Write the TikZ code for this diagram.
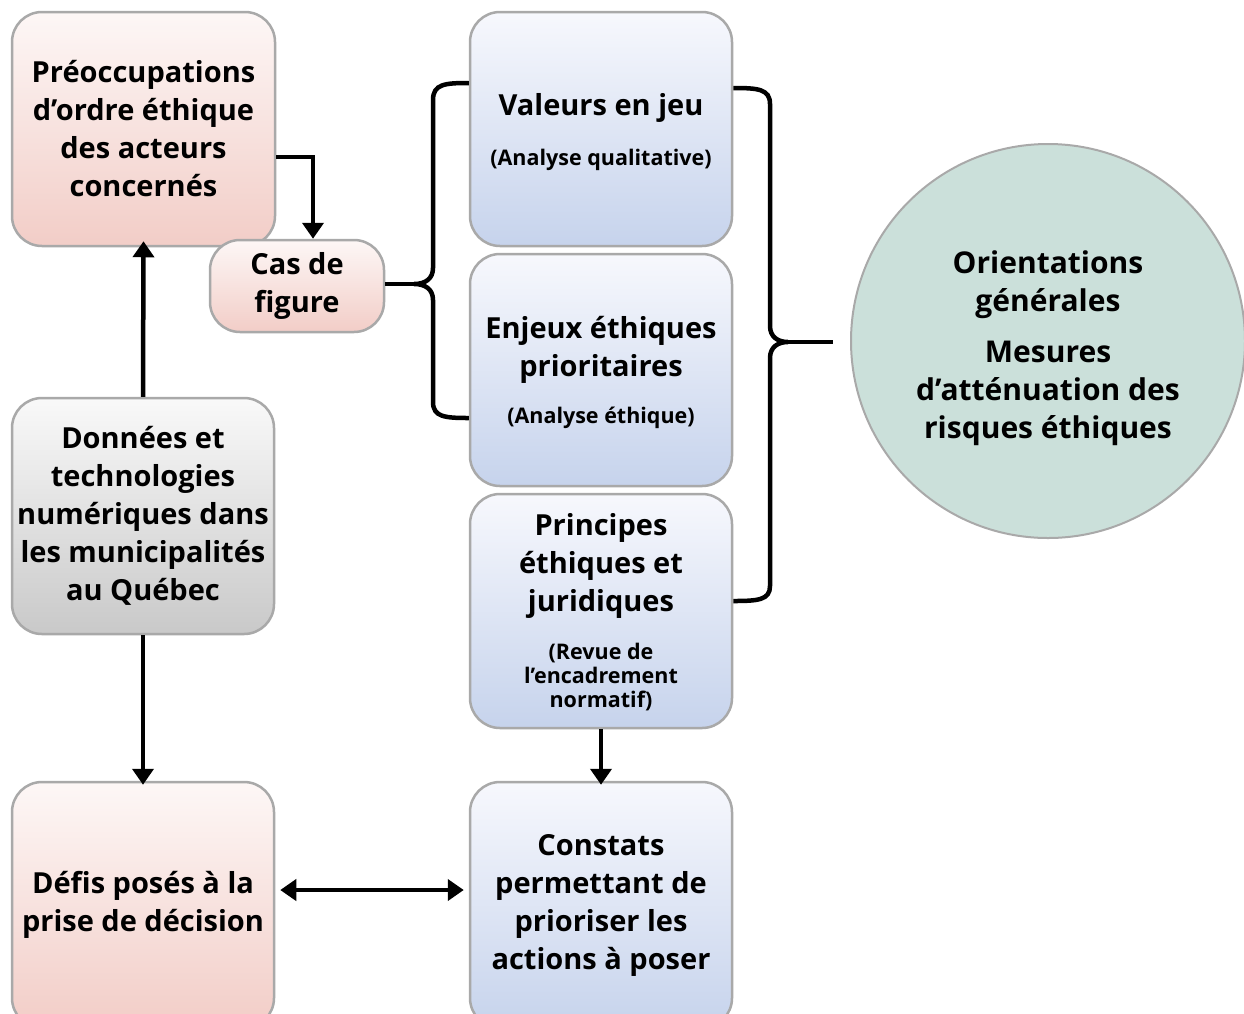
\documentclass[tikz,border=0pt]{standalone}
\usepackage{fontspec}
\setmainfont{Open Sans}
\usetikzlibrary{arrows.meta}
\definecolor{boxgray}{HTML}{A9A9A9}
\definecolor{pinkT}{HTML}{FDF7F6}
\definecolor{pinkB}{HTML}{F2CDC7}
\definecolor{blueT}{HTML}{F7F8FD}
\definecolor{blueB}{HTML}{C6D3EC}
\definecolor{grayT}{HTML}{F9F9F9}
\definecolor{grayB}{HTML}{C9C9C9}
\definecolor{circfill}{HTML}{CBE0DA}
\tikzset{
  box/.style={draw=boxgray, line width=2.5pt, rounded corners=30pt, align=center,
    font=\fontsize{29}{38}\selectfont\bfseries, inner sep=0pt},
  pinkbox/.style={box, top color=pinkT, bottom color=pinkB},
  bluebox/.style={box, top color=blueT, bottom color=blueB},
  graybox/.style={box, top color=grayT, bottom color=grayB},
  arr/.style={line width=4.5pt, -{Triangle[width=21pt,length=16pt]}},
  darr/.style={line width=4.5pt, {Triangle[width=21pt,length=16pt]}-{Triangle[width=21pt,length=16pt]}},
  bracestyle/.style={line width=4.5pt},
}
\newcommand{\smalltxt}[1]{{\fontsize{21.5}{24}\selectfont #1}}
\begin{document}
\begin{tikzpicture}[x=1pt,y=-1pt]
\fill[white] (0,0) rectangle (1244,1013);
\useasboundingbox (0,0) rectangle (1244,1013);

% boxes
\node[pinkbox, minimum width=263pt, minimum height=234pt] (pre) at (143.5,129) {Préoccupations\\d’ordre éthique\\des acteurs\\concernés};
\node[pinkbox, minimum width=174pt, minimum height=92pt] (cas) at (297,286) {Cas de\\figure};
\node[graybox, minimum width=262pt, minimum height=236pt] (don) at (143,516) {Données et\\technologies\\numériques dans\\les municipalités\\au Québec};
\node[pinkbox, minimum width=262pt, minimum height=246pt] (def) at (143,905) {Défis posés à la\\prise de décision};

\node[bluebox, minimum width=262pt, minimum height=234pt] (val) at (601,129) {\rule{0pt}{28pt}Valeurs en jeu\\[12pt]\smalltxt{(Analyse qualitative)}};
\node[bluebox, minimum width=262pt, minimum height=232pt] (enj) at (601,370) {\rule{0pt}{28pt}Enjeux éthiques\\prioritaires\\[9pt]\smalltxt{(Analyse éthique)}};
\node[bluebox, minimum width=262pt, minimum height=234pt] (pri) at (601,611) {\rule{0pt}{25pt}Principes\\éthiques et\\juridiques\\[10pt]\smalltxt{(Revue de}\\[-14pt]\smalltxt{l’encadrement}\\[-14pt]\smalltxt{normatif)}};
\node[bluebox, minimum width=262pt, minimum height=246pt] (con) at (601,905) {Constats\\permettant de\\prioriser les\\actions à poser};

\node[circle, draw=boxgray, line width=2pt, fill=circfill, minimum size=394pt, inner sep=0pt] (ori) at (1048,341) {};
\node[align=center, font=\fontsize{30}{38}\selectfont\bfseries, inner sep=0pt] (oritxt) at ([yshift=-7pt]ori.center) {Orientations\\générales\\[13pt]Mesures\\d’atténuation des\\risques éthiques};

% arrows
\draw[arr] (pre.east |- 0,157) -| (cas.north -| 313,0);
\draw[arr] (don.north) -- ([yshift=6pt]pre.south);
\draw[arr] (don.south) -- ([yshift=-4pt]def.north);
\draw[arr] (pri.south) -- ([yshift=-4pt]con.north);
\draw[darr] ([xshift=5pt]def.east |- 0,890) -- ([xshift=-5pt]con.west |- 0,890);

% left brace
\coordinate (lbt) at (414,284);
\draw[bracestyle] (val.west |- 0,83) .. controls (445,83) and (433,84) .. (433,100) -- (433,268)
  .. controls (433,279) and (425,284) .. (lbt)
  .. controls (425,284) and (433,289) .. (433,300) -- (433,402)
  .. controls (433,417) and (445,418) .. (enj.west |- 0,418);
\draw[bracestyle] (cas.east |- 0,284) -- (lbt);

% right brace
\coordinate (rbt) at (788,342);
\coordinate (rbe) at (833,342);
\draw[bracestyle] (val.east |- 0,88) .. controls (758,88) and (770,89) .. (770,104) -- (770,326)
  .. controls (770,337) and (778,342) .. (rbt)
  .. controls (778,342) and (770,347) .. (770,358) -- (770,586)
  .. controls (770,600) and (758,601) .. (pri.east |- 0,601);
\draw[bracestyle] (rbt) -- (rbe);
\end{tikzpicture}
\end{document}
